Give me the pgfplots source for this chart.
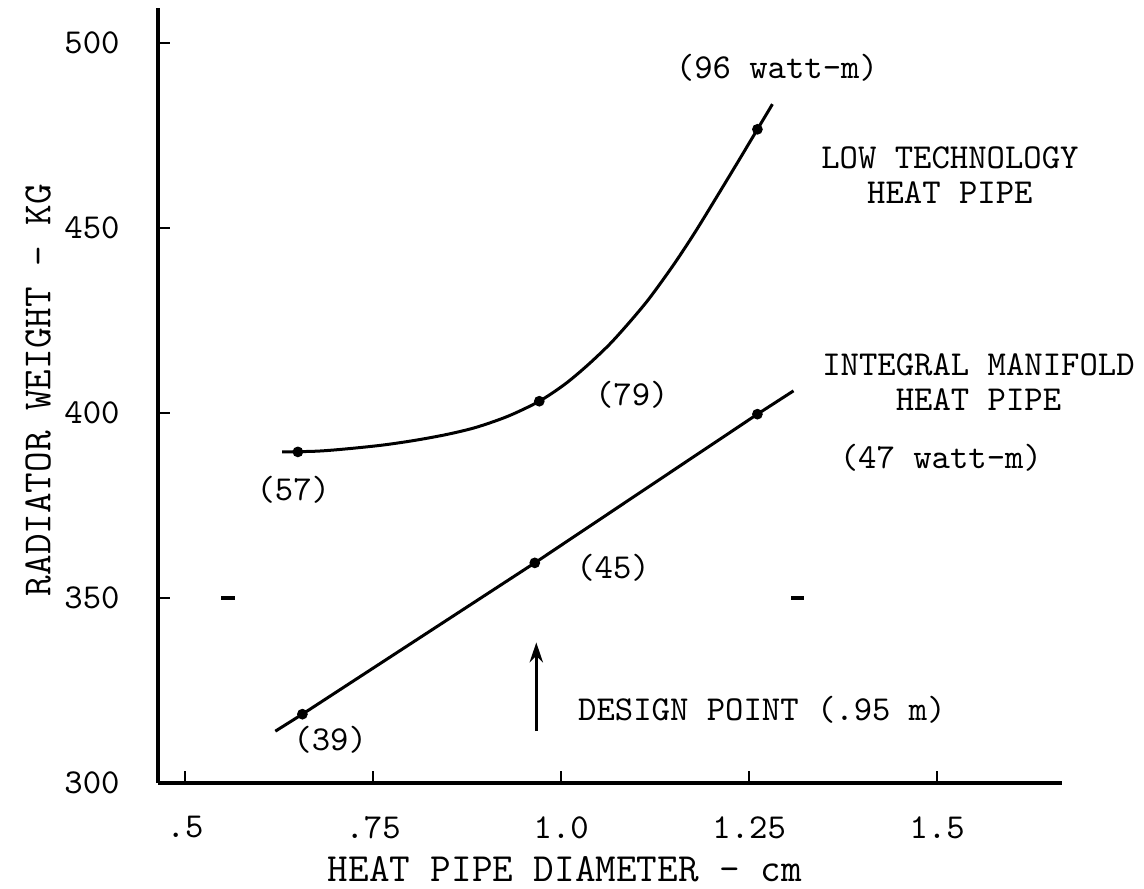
\documentclass[border=0pt]{standalone}
\usepackage{fontspec}
\usepackage{pgfplots}
\pgfplotsset{compat=1.18}
\usetikzlibrary{arrows.meta}

\newcommand{\tw}{\fontsize{10.5}{10.5}\selectfont\ttfamily\addfontfeature{FakeBold=0.6}}
\newcommand{\twl}{\fontsize{12}{12}\selectfont\ttfamily\addfontfeature{LetterSpace=20,FakeBold=0.6}}

\begin{document}
\begin{tikzpicture}
  % page = reference frame, 0.3pt per pixel, axis box at origin
  \path[use as bounding box] (-47.4pt,-31.8pt) rectangle (295.8pt,234.9pt);
  \begin{axis}[
    at={(0,0)}, anchor=south west,
    scale only axis,
    width=271.2pt, height=232.5pt,
    xmin=0.464, xmax=1.666,
    ymin=300, ymax=509.5,
    axis x line*=bottom, axis y line*=left,
    axis line style={line width=1pt},
    tick align=inside,
    major tick length=3.5pt,
    every tick/.style={black, line width=0.8pt},
    xtick={0.5,0.75,1,1.25,1.5},
    xticklabels={.5,.75,1.0,1.25,1.5},
    ytick={300,350,400,450,500},
    yticklabels={300,350,400,450,500},
    tick label style={font=\tw},
    xticklabel style={yshift=-6.5pt},
    yticklabel style={xshift=-8pt},
    clip=false,
  ]
    % low technology heat pipe
    \addplot[black, line width=0.9pt, smooth] coordinates {
      (0.629,389.5) (0.676,389.7) (0.719,390.4) (0.765,391.4) (0.808,392.7)
      (0.850,394.3) (0.888,396.2) (0.930,399.2) (0.971,403.2) (1.005,407.8)
      (1.035,412.9) (1.065,418.7) (1.092,424.8) (1.115,430.4) (1.135,435.9)
      (1.155,441.7) (1.180,449.5) (1.211,459.8) (1.236,468.2) (1.261,476.7)
      (1.281,483.5)};
    \addplot[black, only marks, mark=*, mark size=1.4pt] coordinates {
      (0.650,389.5) (0.971,403.2) (1.261,476.7)};
    % integral manifold heat pipe
    \addplot[black, line width=0.9pt] coordinates {
      (0.620,314) (0.656,318.6) (0.965,359.5) (1.261,399.7) (1.309,406)};
    \addplot[black, only marks, mark=*, mark size=1.4pt] coordinates {
      (0.656,318.6) (0.965,359.5) (1.261,399.7)};
    % stray reference dashes at 350
    \addplot[black, only marks, mark=-, mark size=2pt, line width=1pt] coordinates {
      (0.557,350) (1.314,350)};
    % design point arrow
    \addplot[black, line width=0.8pt, -{Stealth[length=6pt,width=4pt]}] coordinates {
      (0.967,314) (0.967,338)};

    \node[font=\tw] at (axis cs:0.644,379.2) {(57)};
    \node[font=\tw] at (axis cs:1.094,404.9) {(79)};
    \node[font=\tw] at (axis cs:1.069,358.1) {(45)};
    \node[font=\tw] at (axis cs:0.693,311.6) {(39)};
    \node[font=\tw] at (axis cs:1.287,493.2) {(96 watt-m)};
    \node[font=\tw, align=center] at (axis cs:1.517,464.3) {LOW TECHNOLOGY\\HEAT PIPE};
    \node[font=\tw, align=center] at (axis cs:1.555,408.4) {INTEGRAL MANIFOLD\\HEAT PIPE};
    \node[font=\tw] at (axis cs:1.505,387.8) {(47 watt-m)};
    \node[font=\tw] at (axis cs:1.267,319.7) {DESIGN POINT (.95 m)};

    \node[font=\twl] at ([yshift=-26pt]rel axis cs:0.45,0) {HEAT PIPE DIAMETER - cm};
    \node[font=\twl, rotate=90] at ([xshift=-36pt]rel axis cs:0,0.507) {RADIATOR WEIGHT - KG};
  \end{axis}
\end{tikzpicture}
\end{document}
